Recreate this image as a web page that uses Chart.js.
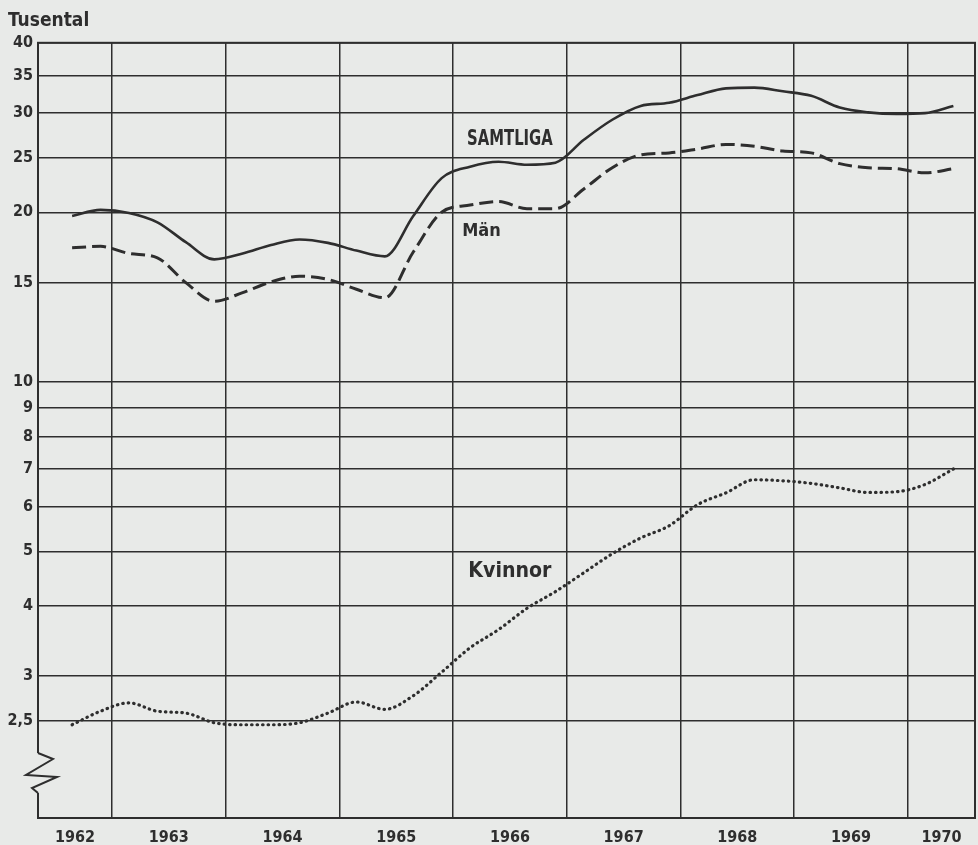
<!DOCTYPE html>
<html lang="sv">
<head>
<meta charset="utf-8">
<title>Tusental</title>
<script src="https://cdn.jsdelivr.net/npm/chart.js"></script>
<style>
  html, body { margin: 0; padding: 0; background: #e8eae8; }
  #wrap { width: 978px; height: 845px; }
</style>
</head>
<body>
<div id="wrap"><canvas id="chart"></canvas></div>
<script>
// avläsningstidpunkter (år, ungefär kvartalsvis)
const times = [1962.65, 1962.9, 1963.15, 1963.4, 1963.65, 1963.9, 1964.15, 1964.4,
  1964.65, 1964.9, 1965.15, 1965.4, 1965.65, 1965.9, 1966.15, 1966.4,
  1966.65, 1966.9, 1967.15, 1967.4, 1967.65, 1967.9, 1968.15, 1968.4,
  1968.65, 1968.9, 1969.15, 1969.4, 1969.65, 1969.9, 1970.15, 1970.4];
const years = [1962, 1963, 1964, 1965, 1966, 1967, 1968, 1969, 1970];
const yTicks = [2.5, 3, 4, 5, 6, 7, 8, 9, 10, 15, 20, 25, 30, 35, 40];

// tusental
const samtliga = [19.7, 20.2, 19.95, 19.2, 17.7, 16.5, 16.9, 17.5,
  17.9, 17.65, 17.1, 16.7, 19.7, 23.0, 24.1, 24.6,
  24.3, 24.5, 26.9, 29.2, 30.9, 31.3, 32.3, 33.2,
  33.3, 32.8, 32.2, 30.7, 30.1, 29.9, 30.0, 30.9];
const man = [17.3, 17.4, 16.9, 16.6, 15.0, 13.9, 14.4, 15.05,
  15.4, 15.2, 14.6, 14.1, 17.0, 20.0, 20.6, 20.9,
  20.3, 20.3, 22.0, 24.0, 25.3, 25.5, 25.9, 26.4,
  26.2, 25.7, 25.5, 24.4, 24.0, 23.9, 23.5, 23.9];
const kvinnor = [2.46, 2.6, 2.69, 2.6, 2.58, 2.48, 2.46, 2.46,
  2.48, 2.58, 2.70, 2.62, 2.77, 3.05, 3.37, 3.63,
  3.96, 4.24, 4.58, 4.95, 5.28, 5.55, 6.05, 6.35,
  6.70, 6.67, 6.6, 6.48, 6.36, 6.38, 6.57, 7.0];

const INK = '#2e2e2e';
const PAPER = '#e8eae8';
const FAMILY = "'DejaVu Sans Condensed', 'DejaVu Sans', sans-serif";

function pts(values) {
  return times.map((t, i) => ({ x: t, y: values[i] }));
}

// text vid kurvorna, placerad i datakoordinater
const curveLabels = [
  { text: 'SAMTLIGA', x: 1966.5, y: 27.0, size: 22, scaleX: 0.75 },
  { text: 'Män', x: 1966.25, y: 18.5, size: 18, scaleX: 1 },
  { text: 'Kvinnor', x: 1966.5, y: 4.6, size: 22, scaleX: 0.96 }
];

const paperPlugin = {
  id: 'paper',
  beforeDraw(chart) {
    const ctx = chart.ctx;
    ctx.save();
    ctx.fillStyle = PAPER;
    ctx.fillRect(0, 0, chart.width, chart.height);
    ctx.restore();
  },
  afterDraw(chart) {
    const { ctx, chartArea: a } = chart;
    ctx.save();
    ctx.strokeStyle = INK;
    ctx.lineWidth = 2;
    ctx.strokeRect(a.left, a.top, a.right - a.left, a.bottom - a.top);
    // axelbrott nere till vänster
    const x = a.left, y0 = a.bottom - 65;
    ctx.fillStyle = PAPER;
    ctx.fillRect(x - 3, y0, 6, 40);
    ctx.lineJoin = 'miter';
    ctx.beginPath();
    ctx.moveTo(x, y0);
    ctx.lineTo(x + 15, y0 + 6);
    ctx.lineTo(x - 12, y0 + 22);
    ctx.lineTo(x + 19, y0 + 24);
    ctx.lineTo(x - 6, y0 + 35);
    ctx.lineTo(x, y0 + 40);
    ctx.stroke();
    ctx.restore();
  }
};

const labelPlugin = {
  id: 'curveLabels',
  afterDatasetsDraw(chart) {
    const { ctx, scales } = chart;
    ctx.save();
    ctx.fillStyle = INK;
    ctx.textAlign = 'center';
    ctx.textBaseline = 'middle';
    curveLabels.forEach(l => {
      ctx.save();
      ctx.translate(scales.x.getPixelForValue(l.x), scales.y.getPixelForValue(l.y));
      ctx.scale(l.scaleX, 1);
      ctx.font = 'bold ' + l.size + 'px ' + FAMILY;
      ctx.fillText(l.text, 0, 0);
      ctx.restore();
    });
    ctx.restore();
  }
};

new Chart(document.getElementById('chart'), {
  type: 'line',
  data: {
    datasets: [
      { label: 'Samtliga', data: pts(samtliga), borderColor: INK, borderWidth: 2.6 },
      { label: 'Män', data: pts(man), borderColor: INK, borderWidth: 3, borderDash: [14, 6] },
      { label: 'Kvinnor', data: pts(kvinnor), borderColor: INK, borderWidth: 3.2,
        borderDash: [0.5, 5], borderCapStyle: 'round' }
    ]
  },
  options: {
    responsive: true,
    maintainAspectRatio: false,
    animation: false,
    layout: { padding: { left: 8, right: 3, top: 0, bottom: 0 } },
    elements: {
      point: { radius: 0 },
      line: { cubicInterpolationMode: 'monotone', fill: false }
    },
    plugins: {
      legend: { display: false },
      tooltip: { enabled: false },
      title: {
        display: true, text: 'Tusental', align: 'start', color: INK,
        font: { family: FAMILY, size: 19, weight: 'bold' },
        padding: { top: 10, bottom: 10 }
      }
    },
    scales: {
      x: {
        type: 'linear', position: 'bottom', min: 1962.35, max: 1970.59,
        afterBuildTicks: s => { s.ticks = years.slice(1).map(v => ({ value: v })); },
        afterFit: s => { s.height = 0; },
        grid: { color: INK, lineWidth: 1.5, drawTicks: false },
        border: { display: true, color: INK, width: 2 },
        ticks: { display: false }
      },
      x2: {
        type: 'linear', position: 'bottom', min: 1962.35, max: 1970.59,
        afterBuildTicks: s => {
          s.ticks = years.map(y => ({ value: (Math.max(y, s.min) + Math.min(y + 1, s.max)) / 2 }));
        },
        afterFit: s => { s.height = 27; },
        grid: { display: false, drawTicks: false },
        border: { display: false },
        ticks: {
          autoSkip: false, maxRotation: 0, padding: 10, color: INK,
          font: { family: FAMILY, size: 16, weight: 'bold' },
          callback: (v, i) => String(years[i])
        }
      },
      y: {
        type: 'logarithmic', min: 1.68, max: 40,
        afterBuildTicks: s => { s.ticks = yTicks.map(v => ({ value: v })); },
        afterFit: s => { s.width = 30; },
        grid: { color: INK, lineWidth: 1.5, drawTicks: false },
        border: { display: true, color: INK, width: 2 },
        ticks: {
          autoSkip: false, padding: 5, color: INK,
          font: { family: FAMILY, size: 16, weight: 'bold' },
          callback: v => String(v).replace('.', ',')
        }
      }
    }
  },
  plugins: [paperPlugin, labelPlugin]
});
</script>
</body>
</html>
